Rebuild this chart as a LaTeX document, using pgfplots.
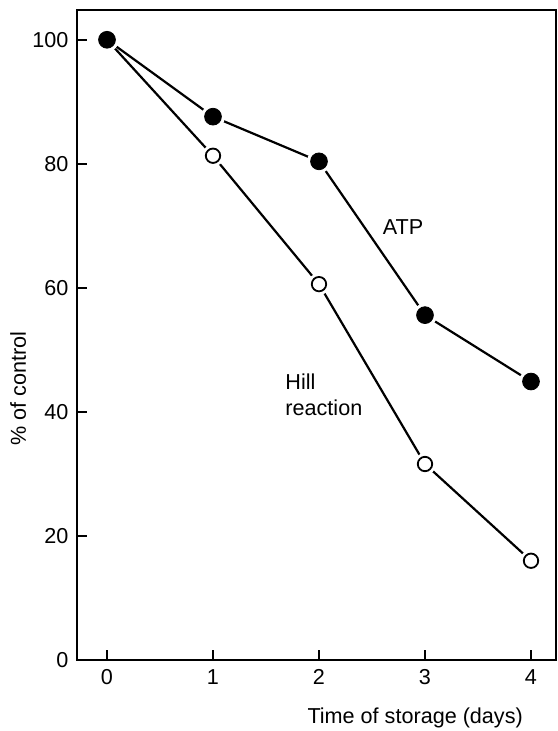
\documentclass[border=0pt]{standalone}
\usepackage{pgfplots}
\pgfplotsset{compat=1.18}
\usepackage{fontspec}
\setmainfont{Liberation Sans}
\begin{document}
\fontsize{10.8}{13}\selectfont
\begin{tikzpicture}
\useasboundingbox (0,0) rectangle (278.5pt,365.5pt);
\begin{axis}[
  at={(38.5pt,35.5pt)}, anchor=south west,
  scale only axis, width=239.5pt, height=325pt,
  xmin=-0.283, xmax=4.236, ymin=0, ymax=104.8,
  axis line style={line width=1.1pt},
  xtick={0,1,2,3,4}, ytick={0,20,40,60,80,100},
  tick align=inside, xtick pos=bottom, ytick pos=left,
  major tick length=5pt,
  tick style={line width=1.1pt, black},
  /pgf/number format/assume math mode=true,
  yticklabel style={xshift=-0.5pt},
  xticklabel style={yshift=-1pt},
  xlabel={Time of storage (days)},
  xlabel style={at={(axis description cs:0.706,-0.089)}, anchor=center},
  ylabel={\% of control},
  ylabel style={at={(axis description cs:-0.123,0.418)}, anchor=center, rotate=0},
  clip=false,
]
% ATP
\addplot[black, line width=1.1pt, no marks] coordinates {(0,100) (1,87.6) (2,80.4) (3,55.6) (4,44.9)};
% Hill reaction
\addplot[black, line width=1.1pt, no marks] coordinates {(0,100) (1,81.3) (2,60.6) (3,31.6) (4,16.0)};
% white halos
\addplot[only marks, mark=*, mark size=5.3pt, white, mark options={draw=white, fill=white}] coordinates {(1,81.3) (2,60.6) (3,31.6) (4,16.0)};
\addplot[only marks, mark=*, mark size=3.6pt, black, mark options={draw=black, fill=white, line width=0.9pt}] coordinates {(1,81.3) (2,60.6) (3,31.6) (4,16.0)};
\addplot[only marks, mark=*, mark size=5.8pt, white, mark options={draw=white, fill=white}] coordinates {(0,100) (1,87.6) (2,80.4) (3,55.6) (4,44.9)};
\addplot[only marks, mark=*, mark size=4.2pt, black, mark options={draw=black, fill=black}] coordinates {(0,100) (1,87.6) (2,80.4) (3,55.6) (4,44.9)};
\node[anchor=west] at (axis cs:2.53,69.8) {ATP};
\node[anchor=west, align=left, inner sep=0pt] at (axis cs:1.68,42.7) {Hill\\reaction};
\end{axis}
\end{tikzpicture}
\end{document}
